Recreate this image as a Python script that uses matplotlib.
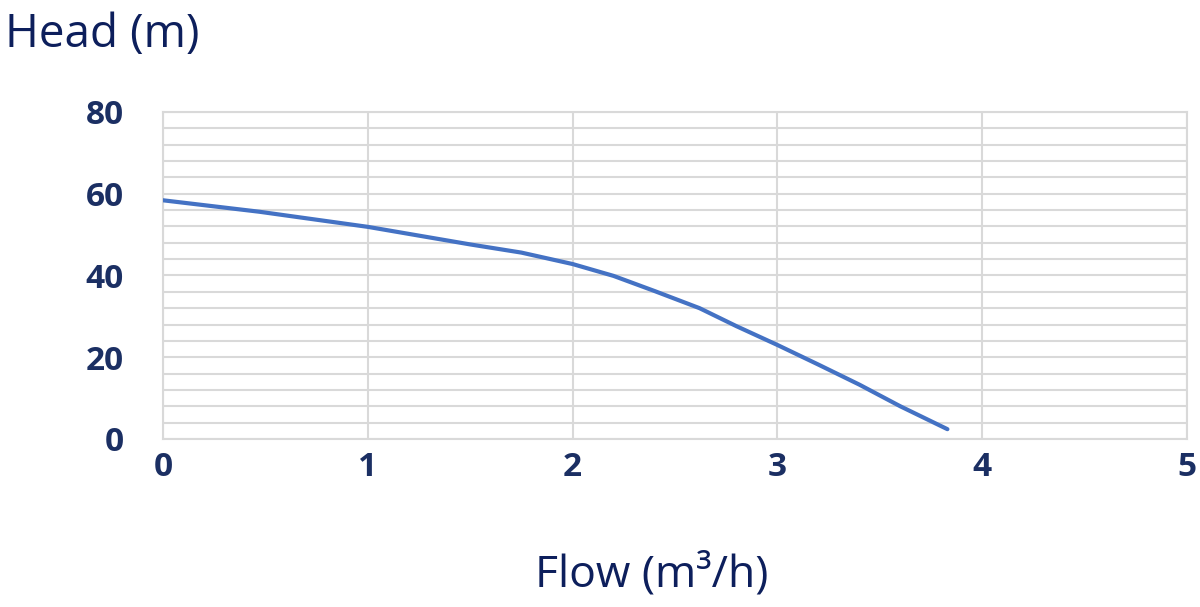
import matplotlib.pyplot as plt
import numpy as np

# pump curve
flow = [0.0, 0.47, 1.0, 1.5, 1.75, 2.0, 2.2, 2.4, 2.62, 2.8, 3.0, 3.2, 3.4, 3.6, 3.83]
head = [58.4, 55.6, 51.9, 47.6, 45.6, 42.8, 39.9, 36.2, 32.0, 27.6, 23.0, 18.2, 13.3, 8.0, 2.4]

x_ticks = [0, 1, 2, 3, 4, 5]
y_ticks = [0, 20, 40, 60, 80]

plt.rcParams['font.family'] = ['Open Sans', 'DejaVu Sans']

navy = '#1b2f63'
fig = plt.figure(figsize=(12, 6.07), dpi=100)
ax = fig.add_axes([0.1358, 0.2768, 0.8534, 0.5387])

ax.plot(flow, head, color='#4472c4', lw=3, solid_capstyle='round',
        solid_joinstyle='round', zorder=3)

ax.set_xlim(0, 5)
ax.set_ylim(0, 80)
ax.set_xticks(x_ticks)
ax.set_yticks(y_ticks)
ax.set_yticks(np.arange(0, 81, 4), minor=True)
ax.grid(True, which='both', axis='y', color='#d9d9d9', lw=1.5)
ax.grid(True, which='major', axis='x', color='#d9d9d9', lw=1.5)
for s in ax.spines.values():
    s.set_color('#d9d9d9')
    s.set_linewidth(1.5)
ax.tick_params(which='both', length=0)
ax.tick_params(axis='y', pad=28)
ax.tick_params(axis='x', pad=9)
for lbl in ax.get_xticklabels() + ax.get_yticklabels():
    lbl.set_fontsize(24)
    lbl.set_fontweight('bold')
    lbl.set_color(navy)

fig.text(0.004, 0.942, 'Head (m)', fontsize=33, color='#0d1f5c', va='center', ha='left')
fig.text(0.543, 0.053, 'Flow (m³/h)', fontsize=32, color='#0d1f5c', va='center', ha='center')

fig.savefig('out.png', dpi=100, facecolor='white')
